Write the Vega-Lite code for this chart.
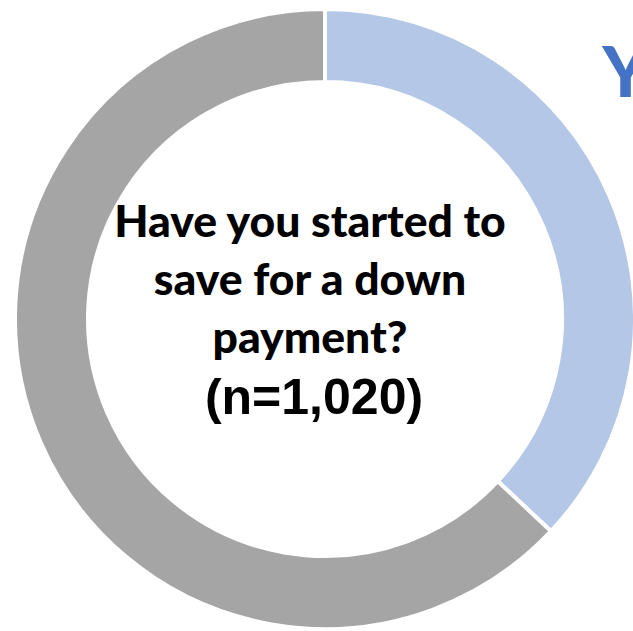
{
  "$schema": "https://vega.github.io/schema/vega-lite/v6.json",
  "width": 620,
  "height": 620,
  "autosize": {"type": "none"},
  "padding": {"left": 15, "top": 9, "right": 0, "bottom": 0},
  "background": "white",
  "config": {"view": {"stroke": null}},
  "layer": [
    {
      "data": {"values": [
        {"answer": "Yes", "value": 37, "idx": 1, "label": "Yes"},
        {"answer": "No", "value": 63, "idx": 2, "label": ""}
      ]},
      "layer": [
        {
          "mark": {"type": "arc", "outerRadius": 310, "innerRadius": 237, "stroke": "white", "strokeWidth": 4},
          "encoding": {
            "theta": {"field": "value", "type": "quantitative", "stack": true},
            "order": {"field": "idx", "type": "quantitative"},
            "color": {"field": "answer", "type": "nominal", "scale": {"domain": ["Yes", "No"], "range": ["#B4C7E7", "#A5A5A5"]}, "legend": null}
          }
        },
        {
          "mark": {"type": "text", "radius": 384, "align": "left", "baseline": "alphabetic", "dx": -75, "dy": -69, "font": "Lato", "fontWeight": 900, "fontSize": 70, "color": "#4472C4"},
          "encoding": {
            "theta": {"field": "value", "type": "quantitative", "stack": true},
            "order": {"field": "idx", "type": "quantitative"},
            "text": {"field": "label", "type": "nominal"}
          }
        }
      ]
    },
    {
      "data": {"values": [{"q": "Have you started to\nsave for a down\npayment?"}]},
      "mark": {"type": "text", "align": "center", "baseline": "alphabetic", "lineBreak": "\n", "lineHeight": 58, "dx": -15, "dy": -82, "font": "Lato", "fontWeight": 900, "fontSize": 44.5, "color": "black"},
      "encoding": {"text": {"field": "q", "type": "nominal"}}
    },
    {
      "data": {"values": [{"n": "(n=1,020)"}]},
      "mark": {"type": "text", "align": "center", "baseline": "alphabetic", "dx": -11, "dy": 95, "font": "Liberation Sans", "fontWeight": "bold", "fontSize": 50, "color": "black"},
      "encoding": {"text": {"field": "n", "type": "nominal"}}
    }
  ]
}
